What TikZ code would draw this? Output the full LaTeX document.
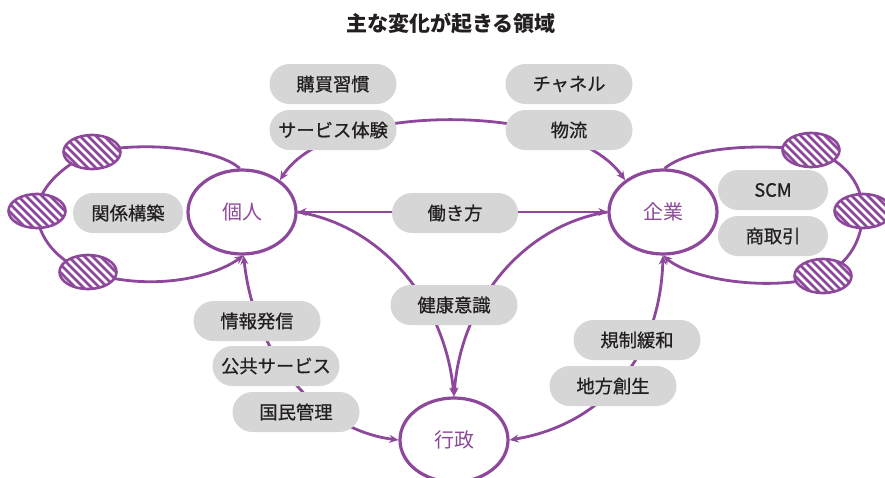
\documentclass[tikz,border=0pt]{standalone}
\usepackage{fontspec}
\setmainfont{Noto Sans CJK JP}
\newfontfamily\pillfont[FakeBold=0.7]{Noto Sans CJK JP}
\usetikzlibrary{shapes.geometric,shapes.misc,arrows.meta}
\definecolor{pur}{RGB}{142,72,155}
\definecolor{pillc}{RGB}{214,214,214}
\definecolor{ink}{RGB}{35,31,32}
\pgfdeclarelayer{bg}
\pgfsetlayers{bg,main}
\begin{document}
\begin{tikzpicture}[x=1pt,y=-1pt,
 mainnode/.style={ellipse, draw=pur, line width=3.2pt, fill=white, minimum width=108pt, minimum height=84pt, inner sep=0pt, text=pur, font=\fontsize{20}{24}\selectfont},
 pillbox/.style={rounded rectangle, fill=pillc, minimum width=127pt, minimum height=40pt, inner sep=0pt, text=ink, font=\pillfont\fontsize{18.3}{20}\selectfont},
 hatch/.style={ellipse, draw=pur, line width=2.6pt, minimum width=57pt, minimum height=34pt, inner sep=0pt, fill=pur,
   path picture={\foreach \i in {-94,-86,...,34} \draw[white, line width=2.7pt] ([xshift=\i pt, yshift=30pt]path picture bounding box.center) -- ++(60pt,-60pt);}},
 conn/.style={draw=pur, line width=2.8pt},
 tipe/.style={-{Stealth[length=9pt,width=8pt]}},
 tipb/.style={{Stealth[length=9pt,width=8pt]}-{Stealth[length=9pt,width=8pt]}}]
\useasboundingbox (0,0) rectangle (885,477);

\node[font=\bfseries\fontsize{21}{24}\selectfont, text=ink] (title) at (451,23) {主な変化が起きる領域};

% main nodes
\node[mainnode] (kojin) at (242,212) {個人};
\node[mainnode] (kigyo) at (663,212) {企業};
\node[mainnode] (gyosei) at (454,440) {行政};

% hatched ellipses
\node[hatch] (hl1) at (92,152) {};
\node[hatch] (hl2) at (37,211) {};
\node[hatch] (hl3) at (88,272) {};
\node[hatch] (hr1) at (811,150) {};
\node[hatch] (hr2) at (863,211) {};
\node[hatch] (hr3) at (823,276) {};

% pills
\node[pillbox] (p1) at (333,84) {購買習慣};
\node[pillbox] (p2) at (333,130) {サービス体験};
\node[pillbox] (p3) at (569,84) {チャネル};
\node[pillbox] (p4) at (569,130) {物流};
\node[pillbox, minimum width=110pt] (p5) at (128,213) {関係構築};
\node[pillbox, minimum width=110pt] (p6) at (773,190) {SCM};
\node[pillbox, minimum width=110pt] (p7) at (773,236) {商取引};
\node[pillbox, minimum width=126pt] (p8) at (455,213) {働き方};
\node[pillbox] (p9) at (454,305) {健康意識};
\node[pillbox] (p10) at (257,321) {情報発信};
\node[pillbox] (p11) at (276,366) {公共サービス};
\node[pillbox] (p12) at (296,412) {国民管理};
\node[pillbox] (p13) at (637,340) {規制緩和};
\node[pillbox] (p14) at (613,386) {地方創生};

\begin{pgfonlayer}{bg}
% left loop
\draw[conn, tipe] (kojin.93) .. controls (220,150) and (150,140) .. (hl1.center)
  .. controls (65,165) and (40,185) .. (hl2.center)
  .. controls (37,237) and (58,262) .. (hl3.center)
  .. controls (150,292) and (212,278) .. (kojin.-88);
% right loop
\draw[conn, tipe] (kigyo.88) .. controls (690,148) and (750,143) .. (hr1.center)
  .. controls (840,158) and (862,180) .. (hr2.center)
  .. controls (862,240) and (850,262) .. (hr3.center)
  .. controls (770,292) and (692,280) .. (kigyo.-90);
% arch through service / logistics
\draw[conn, tipb] (kojin.40) .. controls (330,101) and (570,101) .. (kigyo.140);
% work style
\draw[conn, tipb] (kojin.east) -- (kigyo.west);
% health
\draw[conn, tipe] (kojin.east) .. controls (380,225) and (445,300) .. (gyosei.north);
\draw[conn, tipe] (kigyo.west) .. controls (525,225) and (461,300) .. (gyosei.north);
% info / public
\draw[conn, tipb] (kojin.-88) .. controls (255,360) and (320,430) .. (gyosei.west);
% regulation
\draw[conn, tipb] (kigyo.-90) .. controls (660,360) and (600,425) .. (gyosei.east);
\end{pgfonlayer}
\end{tikzpicture}
\end{document}
